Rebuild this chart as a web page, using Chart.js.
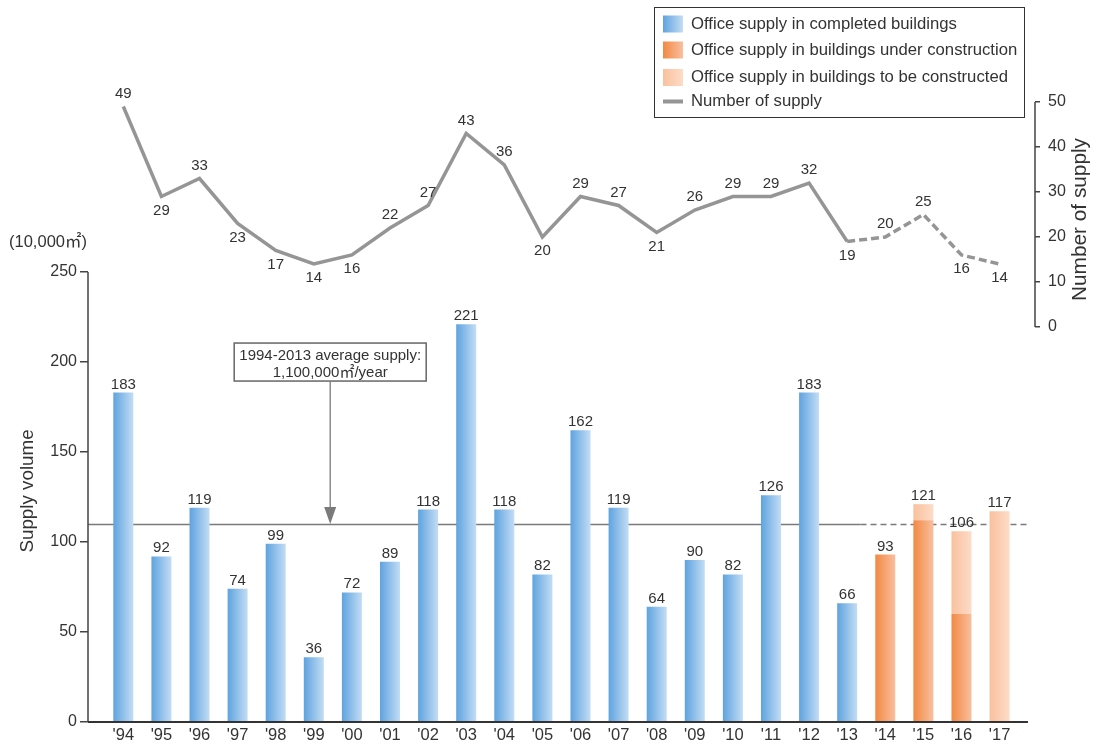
<!DOCTYPE html>
<html>
<head>
<meta charset="utf-8">
<script src="https://cdn.jsdelivr.net/npm/chart.js@4.4.1/dist/chart.umd.min.js"></script>
<style>
  html, body { margin: 0; padding: 0; background: #fff; }
  #wrap { width: 1099px; height: 744px; position: relative; }
</style>
</head>
<body>
<div id="wrap"><canvas id="chart"></canvas></div>
<script>
const years = ["'94", "'95", "'96", "'97", "'98", "'99", "'00", "'01", "'02", "'03", "'04", "'05",
  "'06", "'07", "'08", "'09", "'10", "'11", "'12", "'13", "'14", "'15", "'16", "'17"];
const completed = [183, 92, 119, 74, 99, 36, 72, 89, 118, 221, 118, 82, 162, 119, 64, 90, 82, 126, 183, 66,
  null, null, null, null];
const underConstruction = [null, null, null, null, null, null, null, null, null, null, null, null,
  null, null, null, null, null, null, null, null, 93, 112, 60, null];
const toBeConstructed = [null, null, null, null, null, null, null, null, null, null, null, null,
  null, null, null, null, null, null, null, null, null, 9, 46, 117];
const numberOfSupply = [49, 29, 33, 23, 17, 14, 16, 22, 27, 43, 36, 20, 29, 27, 21, 26, 29, 29, 32, 19,
  20, 25, 16, 14];
const averageSupply = 110;
const volumeTicks = [0, 50, 100, 150, 200, 250];
const countTicks = [0, 10, 20, 30, 40, 50];
const firstForecast = 20; // '14 onwards is a forecast

const FONT = '"Liberation Sans", Arial, "Noto Sans CJK JP", sans-serif';
const BAR_PCT = 0.525;
const BLUE = ['#5ea3df', '#c3ddf4'];
const ORANGE = ['#f28943', '#f8bf9f'];
const LIGHT = ['#f9c19d', '#fddcc8'];
const LINE_GREY = '#959595';

Chart.defaults.font.family = FONT;
Chart.defaults.color = '#333';

// horizontal gradient over each bar
function barFill(stops) {
  return function (c) {
    const chart = c.chart;
    const x = chart.scales.x;
    if (!chart.chartArea || !x || c.type !== 'data') return stops[0];
    const cx = x.getPixelForValue(c.dataIndex);
    const half = (x.getPixelForValue(1) - x.getPixelForValue(0)) * BAR_PCT / 2;
    const g = chart.ctx.createLinearGradient(cx - half, 0, cx + half, 0);
    g.addColorStop(0, stops[0]);
    g.addColorStop(1, stops[1]);
    return g;
  };
}

function fillGradientRect(ctx, x, y, w, h, stops) {
  const g = ctx.createLinearGradient(x, 0, x + w, 0);
  g.addColorStop(0, stops[0]);
  g.addColorStop(1, stops[1]);
  ctx.fillStyle = g;
  ctx.fillRect(x, y, w, h);
}

const decorations = {
  id: 'decorations',
  beforeDatasetsDraw(chart, args, opts) {
    const { ctx, chartArea } = chart;
    const x = chart.scales.x, y = chart.scales.y;
    const yy = Math.round(y.getPixelForValue(averageSupply)) + 0.5;
    const xSplit = x.getPixelForValue(opts.averageSolidUntil);
    const xEnd = x.getPixelForValue(opts.axisEnd);
    ctx.save();
    ctx.strokeStyle = '#7a7a7a';
    ctx.lineWidth = 1.3;
    ctx.beginPath(); ctx.moveTo(chartArea.left, yy); ctx.lineTo(xSplit, yy); ctx.stroke();
    ctx.setLineDash([6, 4]);
    ctx.beginPath(); ctx.moveTo(xSplit, yy); ctx.lineTo(xEnd, yy); ctx.stroke();
    ctx.restore();
  },
  afterDatasetsDraw(chart, args, opts) {
    const { ctx, chartArea } = chart;
    const x = chart.scales.x, y = chart.scales.y, y2 = chart.scales.y2;
    ctx.save();

    // axis lines
    ctx.strokeStyle = '#444';
    ctx.lineWidth = 1.5;
    ctx.beginPath();
    ctx.moveTo(chartArea.left, y.getPixelForValue(volumeTicks[volumeTicks.length - 1]));
    ctx.lineTo(chartArea.left, y.getPixelForValue(0));
    ctx.moveTo(chartArea.right, y2.getPixelForValue(countTicks[countTicks.length - 1]));
    ctx.lineTo(chartArea.right, y2.getPixelForValue(0));
    ctx.stroke();
    ctx.strokeStyle = '#333';
    ctx.lineWidth = 2;
    ctx.beginPath();
    ctx.moveTo(chartArea.left, y.getPixelForValue(0));
    ctx.lineTo(x.getPixelForValue(opts.axisEnd), y.getPixelForValue(0));
    ctx.stroke();

    // unit and axis titles
    ctx.fillStyle = '#333';
    ctx.textAlign = 'center';
    ctx.textBaseline = 'middle';
    ctx.font = '16.5px ' + FONT;
    ctx.fillText('(10,000㎡)', chartArea.left - 40, y.getPixelForValue(250) - 29);

    ctx.save();
    ctx.font = '18.8px ' + FONT;
    ctx.translate(28, (y.getPixelForValue(0) + y.getPixelForValue(250)) / 2 - 6);
    ctx.rotate(-Math.PI / 2);
    ctx.fillText('Supply volume', 0, 0);
    ctx.restore();

    ctx.save();
    ctx.font = '20.8px ' + FONT;
    ctx.translate(chartArea.right + 45, (y2.getPixelForValue(0) + y2.getPixelForValue(50)) / 2 + 5);
    ctx.rotate(-Math.PI / 2);
    ctx.fillText('Number of supply', 0, 0);
    ctx.restore();

    // bar totals
    ctx.font = '15px ' + FONT;
    ctx.textBaseline = 'alphabetic';
    years.forEach((yr, i) => {
      const total = (completed[i] || 0) + (underConstruction[i] || 0) + (toBeConstructed[i] || 0);
      if (!total) return;
      ctx.fillText(String(total), x.getPixelForValue(i), y.getPixelForValue(total) - 4);
    });

    // line labels
    const meta = chart.getDatasetMeta(0);
    ctx.textBaseline = 'middle';
    meta.data.forEach((pt, i) => {
      const dy = opts.lineLabelSide[i] === 'up' ? -13 : 14;
      ctx.fillText(String(numberOfSupply[i]), pt.x, pt.y + dy);
    });

    // annotation box and arrow
    const a = opts.annotation;
    const ax = x.getPixelForValue(a.x);
    const top = y.getPixelForValue(a.yTop);
    ctx.fillStyle = '#fff';
    ctx.fillRect(ax - a.width / 2, top, a.width, a.height);
    ctx.strokeStyle = '#666';
    ctx.lineWidth = 1.5;
    ctx.strokeRect(ax - a.width / 2, top, a.width, a.height);
    ctx.fillStyle = '#333';
    ctx.font = '15px ' + FONT;
    ctx.fillText(a.lines[0], ax, top + 12.5);
    ctx.fillText(a.lines[1], ax, top + 29.5);
    const tip = y.getPixelForValue(averageSupply);
    ctx.strokeStyle = '#7a7a7a';
    ctx.lineWidth = 1.3;
    ctx.beginPath();
    ctx.moveTo(ax, top + a.height);
    ctx.lineTo(ax, tip - 15);
    ctx.stroke();
    ctx.fillStyle = '#7a7a7a';
    ctx.beginPath();
    ctx.moveTo(ax - 6, tip - 17);
    ctx.lineTo(ax + 6, tip - 17);
    ctx.lineTo(ax, tip);
    ctx.closePath();
    ctx.fill();

    // legend
    const L = opts.legend;
    ctx.fillStyle = '#fff';
    ctx.fillRect(L.x, L.y, L.w, L.h);
    ctx.strokeStyle = '#333';
    ctx.lineWidth = 1;
    ctx.strokeRect(L.x + 0.5, L.y + 0.5, L.w, L.h);
    ctx.font = '16.7px ' + FONT;
    ctx.textAlign = 'left';
    L.items.forEach((it, i) => {
      const cy = L.y + L.rows[i];
      if (it.stops) {
        fillGradientRect(ctx, L.x + 9, cy - 8.5, 20, 17, it.stops);
      } else {
        ctx.fillStyle = LINE_GREY;
        ctx.fillRect(L.x + 9, cy - 2, 20, 4);
      }
      ctx.fillStyle = '#333';
      ctx.fillText(chart.data.datasets[it.dataset].label, L.x + 37, cy);
    });

    ctx.restore();
  }
};

new Chart(document.getElementById('chart'), {
  type: 'bar',
  data: {
    labels: years.map((_, i) => i),
    datasets: [
      {
        type: 'line',
        label: 'Number of supply',
        data: numberOfSupply,
        yAxisID: 'y2',
        borderColor: LINE_GREY,
        borderWidth: 3.5,
        pointRadius: 0,
        tension: 0,
        order: 0,
        segment: {
          borderDash: s => s.p1DataIndex >= firstForecast ? [8, 4] : undefined
        }
      },
      {
        label: 'Office supply in completed buildings',
        data: completed,
        backgroundColor: barFill(BLUE),
        stack: 'supply',
        order: 1
      },
      {
        label: 'Office supply in buildings under construction',
        data: underConstruction,
        backgroundColor: barFill(ORANGE),
        stack: 'supply',
        order: 1
      },
      {
        label: 'Office supply in buildings to be constructed',
        data: toBeConstructed,
        backgroundColor: barFill(LIGHT),
        stack: 'supply',
        order: 1
      }
    ]
  },
  options: {
    responsive: true,
    maintainAspectRatio: false,
    animation: false,
    layout: { padding: { top: 102, left: 0, right: 0, bottom: 0 } },
    datasets: { bar: { barPercentage: BAR_PCT, categoryPercentage: 1 } },
    plugins: {
      legend: { display: false },
      tooltip: { enabled: false },
      decorations: {
        axisEnd: 23.745,
        averageSolidUntil: 19.35,
        lineLabelSide: ['up', 'down', 'up', 'down', 'down', 'down', 'down', 'up', 'up', 'up', 'up', 'down',
          'up', 'up', 'down', 'up', 'up', 'up', 'up', 'down', 'up', 'up', 'down', 'down'],
        annotation: {
          x: 5.43, yTop: 210.5, width: 192, height: 38,
          lines: ['1994-2013 average supply:', '1,100,000㎡/year']
        },
        legend: {
          x: 654, y: 7, w: 370, h: 110,
          rows: [17, 43, 70.5, 94.5],
          items: [{ dataset: 1, stops: BLUE }, { dataset: 2, stops: ORANGE }, { dataset: 3, stops: LIGHT }, { dataset: 0 }]
        }
      }
    },
    scales: {
      x: {
        type: 'linear',
        offset: false,
        min: -0.927,
        max: 23.93,
        grid: { display: false, drawTicks: false, offset: false },
        border: { display: false },
        ticks: {
          autoSkip: false,
          maxRotation: 0,
          padding: 4,
          font: { size: 16.5 },
          callback: v => years[v]
        },
        afterBuildTicks: s => { s.ticks = years.map((_, i) => ({ value: i })); },
        afterFit: s => { s.height = 22; }
      },
      y: {
        position: 'left',
        stacked: true,
        min: 0,
        max: 344.4,
        grid: { drawOnChartArea: false, tickLength: 8, color: '#444', lineWidth: 1.5 },
        border: { display: false },
        ticks: { padding: 3, font: { size: 16 } },
        afterBuildTicks: s => { s.ticks = volumeTicks.map(v => ({ value: v })); },
        afterFit: s => { s.width = 88; }
      },
      y2: {
        position: 'right',
        min: -87.78,
        max: 50,
        grid: { drawOnChartArea: false, tickLength: 5, color: '#444', lineWidth: 1.5 },
        border: { display: false },
        ticks: { padding: 8, font: { size: 16 } },
        afterBuildTicks: s => { s.ticks = countTicks.map(v => ({ value: v })); },
        afterFit: s => { s.width = 64; }
      }
    }
  },
  plugins: [decorations]
});
</script>
</body>
</html>
